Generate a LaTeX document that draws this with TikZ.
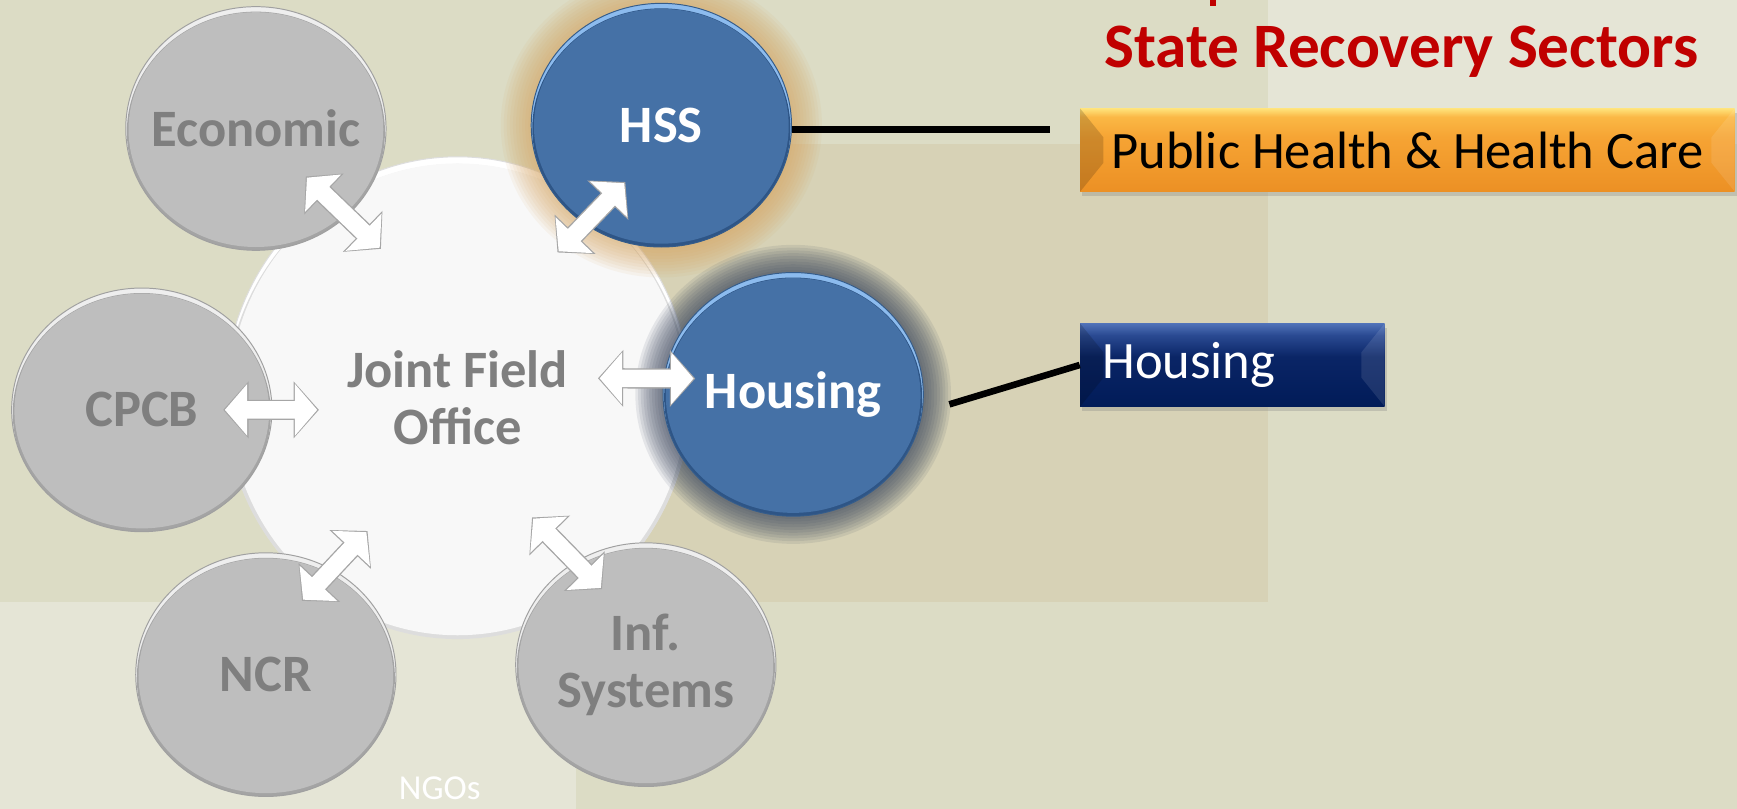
\documentclass[tikz,border=0pt]{standalone}
\usepackage{fontspec}
\setmainfont{Carlito}
\usetikzlibrary{arrows.meta}
\usetikzlibrary{shapes.geometric}
\usetikzlibrary{shadows}

\definecolor{bgbase}{HTML}{DCDCC5}
\definecolor{bglight}{HTML}{E5E5D6}
\definecolor{bgtan}{HTML}{D7D2B6}
\definecolor{bodygray}{HTML}{BEBEBE}
\definecolor{rimgray}{HTML}{EEEEEE}
\definecolor{darkgray}{HTML}{A4A4A4}
\definecolor{edgegray}{HTML}{A0A0A0}
\definecolor{labelgray}{HTML}{7F7F7F}
\definecolor{bodyblue}{HTML}{4571A6}
\definecolor{rimblue}{HTML}{8CBBEE}
\definecolor{darkblue}{HTML}{2E5586}
\definecolor{edgeblue}{HTML}{355C8A}
\definecolor{hubwhite}{HTML}{F8F8F8}
\definecolor{hubrim}{HTML}{DDDDDD}
\definecolor{hssglow}{HTML}{D6A25A}
\definecolor{housglow}{HTML}{39455C}
\definecolor{titlered}{HTML}{C00000}
\definecolor{arrowedge}{HTML}{A6A6A6}
\definecolor{orangebot}{HTML}{EC9024}
\definecolor{orangemid}{HTML}{F6A434}
\definecolor{orangeup}{HTML}{FBB845}
\definecolor{orangetop}{HTML}{FFE27A}
\definecolor{navybot}{HTML}{011B58}
\definecolor{navymid}{HTML}{0A2566}
\definecolor{navyup}{HTML}{2A4A92}
\definecolor{navytop}{HTML}{5072B8}

\pgfdeclareverticalshading{orangebevel}{100bp}{color(0bp)=(orangebot); color(25bp)=(orangebot);
  color(58bp)=(orangemid); color(70bp)=(orangeup); color(75bp)=(orangetop); color(100bp)=(orangetop)}
\pgfdeclareverticalshading{navybevel}{100bp}{color(0bp)=(navybot); color(25bp)=(navybot);
  color(55bp)=(navymid); color(68bp)=(navyup); color(75bp)=(navytop); color(100bp)=(navytop)}

\tikzset{
  orb/.style n args={3}{ellipse, minimum width=4.7cm, minimum height=4.4cm, inner sep=-0.5cm,
    align=center, font=\bfseries\fontsize{27}{29}\selectfont, fill=#1, line width=.5pt,
    path picture={
      \fill[#2] ([yshift=-0.06cm]path picture bounding box.center) ellipse [x radius=2.33cm, y radius=2.17cm];
      \fill[#3] ([yshift=-0.02cm]path picture bounding box.center) ellipse [x radius=2.30cm, y radius=2.12cm];}},
  sector/.style={orb={rimgray}{darkgray}{bodygray}, draw=edgegray, text=labelgray},
  lead/.style={orb={rimblue}{darkblue}{bodyblue}, draw=edgeblue, text=white},
  hub/.style={ellipse, minimum width=8.4cm, minimum height=8.7cm, inner sep=0pt,
    align=center, font=\bfseries\fontsize{27}{29}\selectfont, text=labelgray,
    fill=white, draw=hubrim, line width=.5pt,
    path picture={
      \fill[hubrim] ([yshift=-0.08cm]path picture bounding box.center) ellipse [x radius=4.18cm, y radius=4.3cm];
      \fill[hubwhite] ([yshift=-0.03cm]path picture bounding box.center) ellipse [x radius=4.13cm, y radius=4.26cm];}},
  arrowrim/.style={{Triangle[width=28.5pt,length=13pt]}-{Triangle[width=28.5pt,length=13pt]},
    line width=10.4pt, draw=arrowedge},
  arrowfill/.style={{Triangle[width=26pt,length=11.5pt]}-{Triangle[width=26pt,length=11.5pt]},
    line width=9pt, draw=white},
  link/.style={line width=3.4pt, black},
  rsfbox/.style={rectangle, minimum height=1.5cm, inner xsep=0.4cm, inner ysep=0pt,
    align=left, font=\fontsize{27}{29}\selectfont,
    drop shadow={opacity=.3, shadow xshift=.04cm, shadow yshift=-.08cm},
    path picture={
      \fill[black, opacity=.16] (path picture bounding box.north west) -- ++(0.42cm,-0.52cm)
        -- ([shift={(0.42cm,0.52cm)}]path picture bounding box.south west)
        -- (path picture bounding box.south west) -- cycle;
      \fill[white, opacity=.10] (path picture bounding box.north east) -- ++(-0.42cm,-0.52cm)
        -- ([shift={(-0.42cm,0.52cm)}]path picture bounding box.south east)
        -- (path picture bounding box.south east) -- cycle;}}
}

\begin{document}
\begin{tikzpicture}[x=0.02cm, y=0.02cm]
        % background panels
        \fill[bgbase] (0,0) rectangle (1568,730);
        \fill[bglight] (1145,600) rectangle (1568,730);
        \fill[bglight] (0,0) rectangle (520,187);
        \fill[bgtan] (500,187) rectangle (1145,600);
        \useasboundingbox (0,0) rectangle (1568,730);

        \draw (413,371) node[hub] (jfo) {Joint Field\\Office};

        % glows
        \foreach \g [evaluate=\g as \rx using 2.35+0.055*\g, evaluate=\g as \ry using 2.2+0.055*\g] in {1,...,10}
            \fill[hssglow, opacity=.08] (597,617) ellipse [x radius=\rx cm, y radius=\ry cm];
        \foreach \g [evaluate=\g as \rx using 2.35+0.05*\g, evaluate=\g as \ry using 2.2+0.05*\g] in {1,...,10}
            \fill[housglow, opacity=.1] (716,374) ellipse [x radius=\rx cm, y radius=\ry cm];

        \draw (231,614) node[sector] (econ) {Economic};
        \draw (128,360) node[sector] (cpcb) {CPCB};
        \draw (240,121) node[sector] (ncr) {NCR};
        \draw (583,130) node[sector] (inf) {Inf.\\Systems};

        \draw (597,617) node[lead] (hss) {HSS};
        \draw (716,374) node[lead] (hous) {Housing};

        % two-way arrows
        \foreach \a/\b/\s/\t in {econ.center/jfo.123/1.28/-1.31, hss.40/jfo.53/3.50/-1.10,
                                 cpcb.center/jfo.183/1.50/-1.67, jfo.175/hous.173/6.76/-0.54,
                                 ncr.216/jfo.233/3.71/-1.38, inf.-36/jfo.-53/3.83/-1.75}
        {
            \draw[arrowrim, shorten <=\s cm-0.03cm, shorten >=\t cm-0.03cm] (\a) -- (\b);
            \draw[arrowfill, shorten <=\s cm, shorten >=\t cm] (\a) -- (\b);
        }

        % right hand side
        \fill[titlered] (1092,725) rectangle (1098,730);
        \draw (1265,683) node[font=\bfseries\fontsize{32.5}{34}\selectfont, text=titlered] (title) {State Recovery Sectors};

        \draw (1270.5,594.5) node[rsfbox, shading=orangebevel, minimum width=11.82cm, text=black] (phbox) {Public Health \& Health Care};
        \draw (1112.5,400.5) node[rsfbox, shading=navybevel, text width=4.7cm, text=white] (hbox) {Housing};

        \coordinate (phend) at (948,613);
        \coordinate (hstub) at (857,365);
        \draw[link] (hss.east |- phend) -- (phend);
        \draw[link] (hstub) -- (hbox.west);

        \draw (397,18) node[text=white, font=\fontsize{18}{20}\selectfont] (ngos) {NGOs};
    \end{tikzpicture}
\end{document}
